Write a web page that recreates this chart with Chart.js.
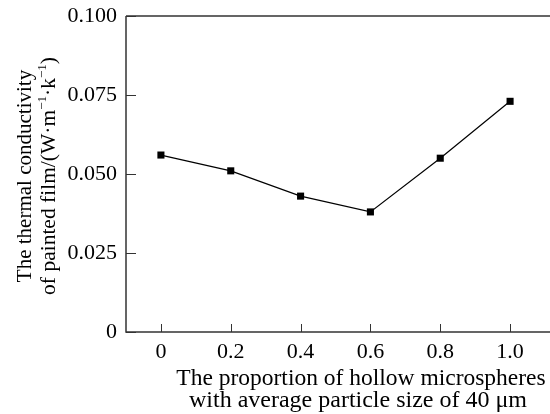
<!DOCTYPE html>
<html>
<head>
<meta charset="utf-8">
<script src="https://cdn.jsdelivr.net/npm/chart.js@4.4.1/dist/chart.umd.min.js"></script>
<style>
  html, body { margin: 0; padding: 0; background: #fff; overflow: hidden; }
  #wrap { width: 550px; height: 414px; }
</style>
</head>
<body>
<div id="wrap"><canvas id="chartId" width="550" height="414"></canvas></div>
<script>
// values
var proportion = [0, 0.2, 0.4, 0.6, 0.8, 1.0]
var conductivity = [0.056, 0.051, 0.043, 0.038, 0.055, 0.073]
var xTicks = [0, 0.2, 0.4, 0.6, 0.8, 1.0]
var xTickLabels = ['0', '0.2', '0.4', '0.6', '0.8', '1.0']
var yTicks = [0, 0.025, 0.05, 0.075, 0.1]
var yTickLabels = ['0', '0.025', '0.050', '0.075', '0.100']
var xTitle = ['The proportion of hollow microspheres', 'with average particle size of 40 \u03bcm']
// second y title line is split so the exponents can be raised
var yTitle1 = 'The thermal conductivity'
var yTitle2 = [['of painted film/(W\u00b7m', false], ['\u22121', true], ['\u00b7k', false], ['\u22121', true], [')', false]]

var serif = '"Liberation Serif", "Times New Roman", serif'

// inner tick marks, frame and the axis titles
var framePlugin = {
    id: 'frame',
    afterDraw: function(chart) {
        var ctx = chart.ctx
        var a = chart.chartArea
        var xs = chart.scales.x, ys = chart.scales.y
        ctx.save()
        ctx.strokeStyle = '#333'
        ctx.lineWidth = 1.5
        ctx.beginPath()
        ctx.moveTo(a.left, a.top)
        ctx.lineTo(550, a.top)
        ctx.moveTo(a.left, a.top)
        ctx.lineTo(a.left, a.bottom)
        ctx.lineTo(550, a.bottom)
        ctx.stroke()

        ctx.lineWidth = 1
        ctx.beginPath()
        yTicks.forEach(function(v) {
            var py = Math.round(ys.getPixelForValue(v)) + 0.5
            ctx.moveTo(a.left, py)
            ctx.lineTo(a.left + 10, py)
        })
        xTicks.forEach(function(v) {
            var px = Math.round(xs.getPixelForValue(v)) + 0.5
            ctx.moveTo(px, a.bottom)
            ctx.lineTo(px, a.bottom - 8)
        })
        ctx.stroke()

        // x title
        ctx.fillStyle = '#000'
        ctx.textAlign = 'center'
        ctx.textBaseline = 'alphabetic'
        ctx.font = '23.5px ' + serif
        ctx.fillText(xTitle[0], 361, 385)
        ctx.font = '24px ' + serif
        ctx.fillText(xTitle[1], 358, 407)

        // y title, rotated
        var cy = (a.top + a.bottom) / 2 + 2
        ctx.save()
        ctx.translate(31, cy)
        ctx.rotate(-Math.PI / 2)
        ctx.font = '21px ' + serif
        ctx.textAlign = 'center'
        ctx.fillText(yTitle1, 0, 0)
        ctx.restore()

        ctx.save()
        ctx.translate(55, cy)
        ctx.rotate(-Math.PI / 2)
        ctx.textAlign = 'left'
        var total = 0
        yTitle2.forEach(function(s) {
            ctx.font = (s[1] ? '13px ' : '21.5px ') + serif
            total += ctx.measureText(s[0]).width
        })
        var x = -total / 2
        yTitle2.forEach(function(s) {
            ctx.font = (s[1] ? '13px ' : '21.5px ') + serif
            ctx.fillText(s[0], x, s[1] ? -9 : 0)
            x += ctx.measureText(s[0]).width
        })
        ctx.restore()
        ctx.restore()
    }
}

var chrt = document.getElementById('chartId').getContext('2d')

var lineChart = new Chart(chrt, {
    type: 'line',
    data: {
        datasets: [{
            data: proportion.map(function(p, i) { return { x: p, y: conductivity[i] } }),
            borderColor: '#000',
            borderWidth: 1.2,
            backgroundColor: '#000',
            pointStyle: 'rect',
            pointRadius: 5,
            pointBorderWidth: 0,
            pointBackgroundColor: '#000',
            fill: false,
            tension: 0
        }]
    },
    options: {
        responsive: false,
        animation: false,
        layout: { padding: { top: 16, right: 0, left: 0, bottom: 0 } },
        plugins: {
            legend: { display: false },
            tooltip: { enabled: false }
        },
        scales: {
            x: {
                type: 'linear',
                min: -0.1,
                max: 1.1,
                afterBuildTicks: function(scale) {
                    scale.ticks = xTicks.map(function(v) { return { value: v } })
                },
                afterFit: function(scale) {
                    scale.height = 82
                    scale.paddingLeft = 0
                    scale.paddingRight = 0
                },
                grid: { display: false, drawTicks: false },
                border: { display: false },
                ticks: {
                    padding: 7,
                    color: '#000',
                    font: { family: serif, size: 22 },
                    maxRotation: 0,
                    callback: function(v) {
                        var i = xTicks.findIndex(function(t) { return Math.abs(t - v) < 1e-9 })
                        return i >= 0 ? xTickLabels[i] : ''
                    }
                }
            },
            y: {
                min: 0,
                max: 0.1,
                afterBuildTicks: function(scale) {
                    scale.ticks = yTicks.map(function(v) { return { value: v } })
                },
                afterFit: function(scale) {
                    scale.width = 126
                    scale.paddingTop = 0
                    scale.paddingBottom = 0
                },
                grid: { display: false, drawTicks: false },
                border: { display: false },
                ticks: {
                    padding: 9,
                    color: '#000',
                    font: { family: serif, size: 22 },
                    callback: function(v) {
                        var i = yTicks.findIndex(function(t) { return Math.abs(t - v) < 1e-9 })
                        return i >= 0 ? yTickLabels[i] : ''
                    }
                }
            }
        }
    },
    plugins: [framePlugin]
})
</script>
</body>
</html>
